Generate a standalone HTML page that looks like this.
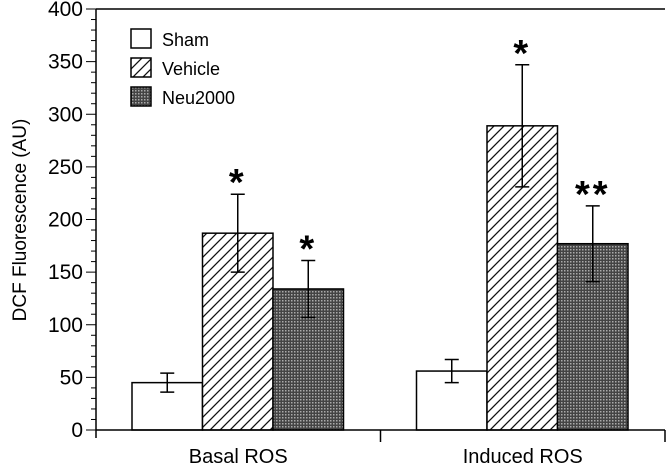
<!DOCTYPE html>
<html><head><meta charset="utf-8"><style>
html,body{margin:0;padding:0;background:#fff;}
svg{display:block;font-family:"Liberation Sans",Arial,sans-serif;}
</style></head><body>
<svg id="chart" width="666" height="471" viewBox="0 0 666 471" xmlns="http://www.w3.org/2000/svg">
<defs>
<pattern id="hatch" patternUnits="userSpaceOnUse" width="10" height="10">
<rect width="10" height="10" fill="#fff"/>
<path d="M-1,11 L11,-1 M-6,6 L6,-6 M4,16 L16,4" stroke="#111" stroke-width="1.3"/>
</pattern>
<pattern id="dots" patternUnits="userSpaceOnUse" width="3" height="3">
<rect width="3" height="3" fill="#444"/>
<rect width="1.5" height="1.5" fill="#aaa"/>
</pattern>
</defs>
<g id="plot"></g>
</svg>
<script>
const categories = ["Basal ROS", "Induced ROS"];
const seriesNames = ["Sham", "Vehicle", "Neu2000"];
const shamValues = [45, 56];
const shamErr = [9, 11];
const vehicleValues = [187, 289];
const vehicleErr = [37, 58];
const neuValues = [134, 177];
const neuErr = [27, 36];
const significance = [["", "*", "*"], ["", "*", "**"]];
const yTicks = [0, 50, 100, 150, 200, 250, 300, 350, 400];

const NS = "http://www.w3.org/2000/svg";
const g = document.getElementById("plot");
const x0 = 96, x1 = 665, yBase = 430, yTop = 9, yMax = 400;
const y = v => yBase - v / yMax * (yBase - yTop);
const groupW = (x1 - x0) / categories.length;
const barW = 70.5, barOff = 36;
function el(tag, attrs, text) {
  const e = document.createElementNS(NS, tag);
  for (const k in attrs) e.setAttribute(k, attrs[k]);
  if (text !== undefined) e.textContent = text;
  g.appendChild(e);
  return e;
}
let e;
e = el("line", {x1: x0, y1: yTop, x2: x0, y2: yBase + 8, stroke: "#000", "stroke-width": 1.5});


e = el("line", {x1: x0, y1: yTop, x2: x1, y2: yTop, stroke: "#000", "stroke-width": 1.5});


for (let v = 0; v <= yMax; v += 10) {
  const major = v % 50 === 0;
  e = el("line", {x1: x0 - (major ? 10 : 5), y1: y(v), x2: x0, y2: y(v), stroke: "#000", "stroke-width": 1});
  
  
}
yTicks.forEach(v => {
  e = el("text", {x: x0 - 13, y: y(v) + 7, "text-anchor": "end", "font-size": 21}, String(v));
  
  
});
e = el("text", {x: 0, y: 0, transform: "translate(26,220) rotate(-90)", "text-anchor": "middle", "font-size": 19}, "DCF Fluorescence (AU)");



const series = [
  {vals: shamValues, err: shamErr, fill: "#fff"},
  {vals: vehicleValues, err: vehicleErr, fill: "url(#hatch)"},
  {vals: neuValues, err: neuErr, fill: "url(#dots)"}
];
categories.forEach((c, i) => {
  const gx = x0 + i * groupW;
  series.forEach((s, j) => {
    const bx = gx + barOff + j * barW;
    const v = s.vals[i];
    e = el("rect", {x: bx, y: y(v), width: barW, height: yBase - y(v), fill: s.fill, stroke: "#000", "stroke-width": 1.5});
    
    
    const cx = bx + barW / 2;
    const hi = y(v + s.err[i]), lo = y(v - s.err[i]);
    e = el("path", {d: `M${cx},${hi}V${lo}M${cx-7},${hi}H${cx+7}M${cx-7},${lo}H${cx+7}`, stroke: "#000", "stroke-width": 1.5, fill: "none"});
    
    
    const sig = significance[i][j];
    if (sig) {
      e = el("text", {x: cx, y: hi + 1, "text-anchor": "middle", "font-size": 38, "font-weight": "bold", "letter-spacing": 3}, sig);
      
      
    }
  });
  e = el("text", {x: gx + groupW / 2, y: 463, "text-anchor": "middle", "font-size": 20}, c);
  
  
  e = el("line", {x1: gx + groupW, y1: yBase, x2: gx + groupW, y2: yBase + 12, stroke: "#000", "stroke-width": 1.5});
  
  
});
e = el("line", {x1: x0, y1: yBase, x2: x1, y2: yBase, stroke: "#000", "stroke-width": 1.5});



const legFills = ["#fff", "url(#hatch)", "url(#dots)"];
seriesNames.forEach((n, k) => {
  const ly = 29 + k * 29;
  e = el("rect", {x: 131, y: ly, width: 20, height: 19, fill: legFills[k], stroke: "#000", "stroke-width": 1.5});
  
  
  e = el("text", {x: 162, y: ly + 17, "font-size": 18}, n);
  
  
});
</script>
</body></html>
